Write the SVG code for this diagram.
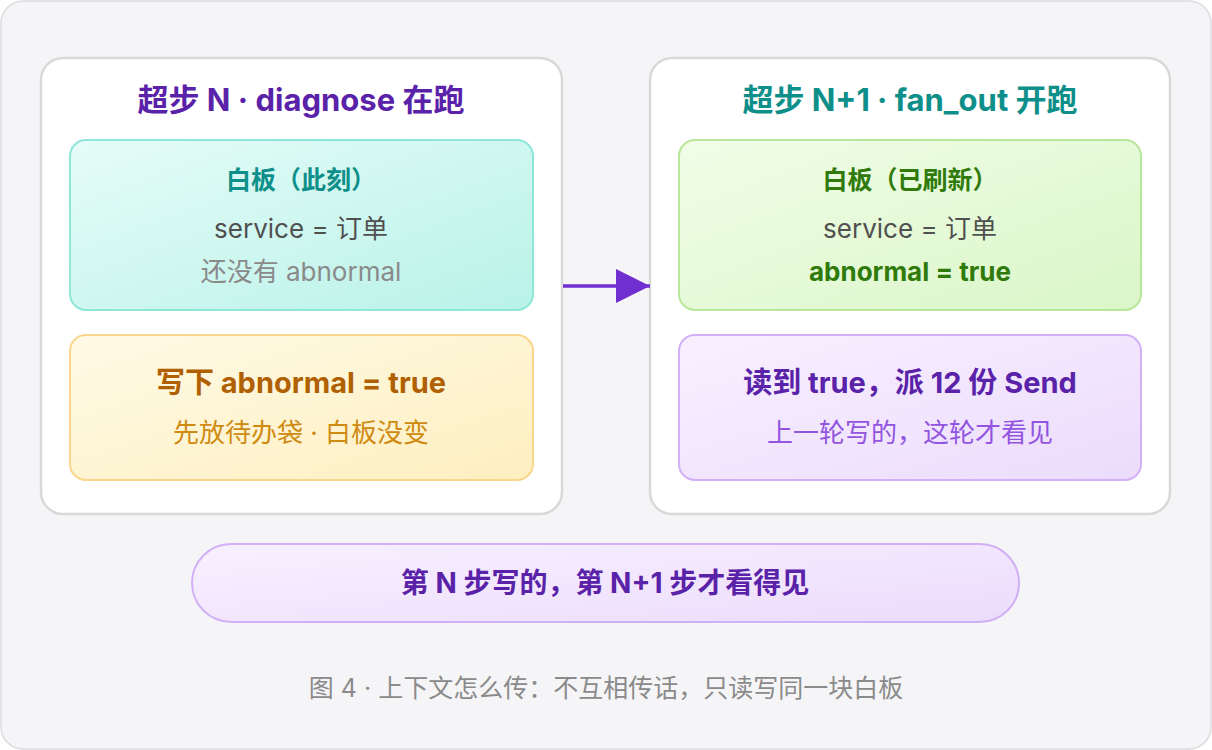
<svg xmlns="http://www.w3.org/2000/svg" width="1212" height="750" viewBox="0 0 1212 750">
<defs>
<linearGradient id="gT" x1="0" y1="0" x2="1" y2="1"><stop offset="0" stop-color="#e6fcf8"/><stop offset="1" stop-color="#b8f2e8"/></linearGradient>
<linearGradient id="gY" x1="0" y1="0" x2="1" y2="1"><stop offset="0" stop-color="#fffae6"/><stop offset="1" stop-color="#fdefc0"/></linearGradient>
<linearGradient id="gG" x1="0" y1="0" x2="1" y2="1"><stop offset="0" stop-color="#f1fde8"/><stop offset="1" stop-color="#daf6c8"/></linearGradient>
<linearGradient id="gP" x1="0" y1="0" x2="1" y2="1"><stop offset="0" stop-color="#f8f0ff"/><stop offset="1" stop-color="#ecdcfc"/></linearGradient>
<marker id="ah2" viewBox="0 0 10 10" markerWidth="34" markerHeight="34" refX="10" refY="5" orient="auto" markerUnits="userSpaceOnUse"><path d="M0,0 L10,5 L0,10 z" fill="#6f2fd1"/></marker>
</defs>
<style>
text{font-family:Inter,"Noto Sans CJK SC",sans-serif;text-anchor:middle}
.panel{fill:#fff;stroke:#d9d9d9;stroke-width:2.5}
.h{font-size:31px;font-weight:700}
.t{font-size:26px;font-weight:700}
.b{font-size:26px}
</style>
<rect x="1" y="1" width="1210" height="748" rx="22" fill="#f5f5f8" stroke="#dcdce0" stroke-width="1.5"/>
<g id="stepN">
<rect class="panel" x="41" y="58" width="521" height="456" rx="22"/>
<text class="h" x="301" y="111" fill="#5a22a8">超步 N · diagnose 在跑</text>
</g>
<g id="boardN">
<rect x="70" y="140" width="463" height="170" rx="16" fill="url(#gT)" stroke="#8ee6d9" stroke-width="2"/>
<text class="t" x="301" y="189" fill="#0f8f8a" style="font-size:25px">白板（此刻）</text>
<text class="b" x="301" y="238" fill="#505050">service = 订单</text>
<text class="b" x="301" y="281" fill="#8a8a8a">还没有 abnormal</text>
</g>
<g id="writeN">
<rect x="70" y="335" width="463" height="145" rx="16" fill="url(#gY)" stroke="#fad58c" stroke-width="2"/>
<text class="h" x="301" y="393" fill="#b06000" style="font-size:29px">写下 abnormal = true</text>
<text class="b" x="301" y="442" fill="#d08a10">先放待办袋 · 白板没变</text>
</g>
<g id="stepN1">
<rect class="panel" x="650" y="58" width="520" height="456" rx="22"/>
<text class="h" x="910" y="111" fill="#0f8f8a">超步 N+1 · fan_out 开跑</text>
</g>
<g id="boardN1">
<rect x="679" y="140" width="462" height="170" rx="16" fill="url(#gG)" stroke="#b8e69a" stroke-width="2"/>
<text class="t" x="910" y="189" fill="#2f7a0a" style="font-size:25px">白板（已刷新）</text>
<text class="b" x="910" y="238" fill="#505050">service = 订单</text>
<text class="t" x="910" y="281" fill="#2f7a0a">abnormal = true</text>
</g>
<g id="readN1">
<rect x="679" y="335" width="462" height="145" rx="16" fill="url(#gP)" stroke="#d2b0f5" stroke-width="2"/>
<text class="h" x="910" y="393" fill="#5a22a8" style="font-size:29px">读到 true，派 12 份 Send</text>
<text class="b" x="910" y="442" fill="#9255e0">上一轮写的，这轮才看见</text>
</g>
<g id="connectors">
<line x1="563" y1="286" x2="650" y2="286" stroke="#6f2fd1" stroke-width="3.5" marker-end="url(#ah2)"/>
</g>
<g id="summary">
<rect x="192" y="544" width="827" height="78" rx="39" fill="url(#gP)" stroke="#d2b0f5" stroke-width="2"/>
<text class="t" x="605" y="593" fill="#5a22a8" style="font-size:28px">第 N 步写的，第 N+1 步才看得见</text>
</g>
<text x="606" y="697" fill="#8a8a8a" style="font-size:25px">图 4 · 上下文怎么传：不互相传话，只读写同一块白板</text>
</svg>
